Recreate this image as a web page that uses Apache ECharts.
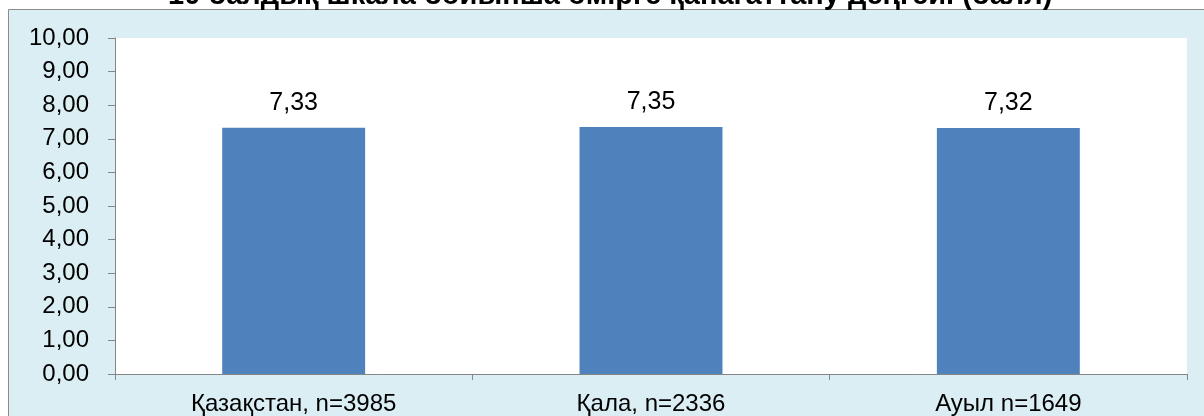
<!DOCTYPE html>
<html>
<head>
<meta charset="utf-8">
<script src="https://cdn.jsdelivr.net/npm/echarts@6/dist/echarts.min.js"></script>
<style>
  html, body { margin: 0; padding: 0; background: #fff; }
  #chart { width: 1204px; height: 416px; }
</style>
</head>
<body>
<div id="chart"></div>
<script>
const categories = ['Қазақстан, n=3985', 'Қала, n=2336', 'Ауыл n=1649'];
const values = [7.33, 7.35, 7.32];
const yTicks = [0, 1, 2, 3, 4, 5, 6, 7, 8, 9, 10];

const fmt = v => v.toFixed(2).replace('.', ',');

const chart = echarts.init(document.getElementById('chart'));

const option = {
  animation: false,
  textStyle: { fontFamily: 'Liberation Sans, Arial, sans-serif' },
  title: {
    text: '10 балдық шкала бойынша өмірге қанағаттану деңгейі (балл)',
    left: 163,
    top: -24,
    textStyle: { fontSize: 29, fontWeight: 'bold', color: '#000', fontFamily: 'Liberation Sans, Arial, sans-serif' }
  },
  graphic: [
    {
      type: 'rect',
      z: -10,
      shape: { x: 8.5, y: 9.5, width: 1200, height: 410 },
      style: { fill: '#DAEEF3', stroke: '#8c8c8c', lineWidth: 1 }
    }
  ],
  grid: {
    left: 115, right: 17, top: 38, bottom: 40,
    show: true, backgroundColor: '#fff', borderWidth: 0
  },
  xAxis: {
    type: 'category',
    data: categories,
    axisLine: { lineStyle: { color: '#868686' } },
    axisTick: { show: true, alignWithLabel: false, length: 6, lineStyle: { color: '#868686' } },
    axisLabel: { color: '#000', fontSize: 24, margin: 18 }
  },
  yAxis: {
    type: 'value',
    min: yTicks[0],
    max: yTicks[yTicks.length - 1],
    interval: 1,
    axisLine: { show: true, lineStyle: { color: '#868686' } },
    axisTick: { show: true, length: 7, inside: false, lineStyle: { color: '#868686' } },
    splitLine: { show: false },
    axisLabel: { color: '#000', fontSize: 24, margin: 26, formatter: v => fmt(v) }
  },
  series: [
    {
      type: 'bar',
      data: values,
      barWidth: '40%',
      itemStyle: { color: '#4F81BD' },
      label: {
        show: true,
        position: 'top',
        distance: 12,
        color: '#000',
        fontSize: 25,
        formatter: p => fmt(p.value)
      }
    }
  ]
};

chart.setOption(option);
</script>
</body>
</html>
